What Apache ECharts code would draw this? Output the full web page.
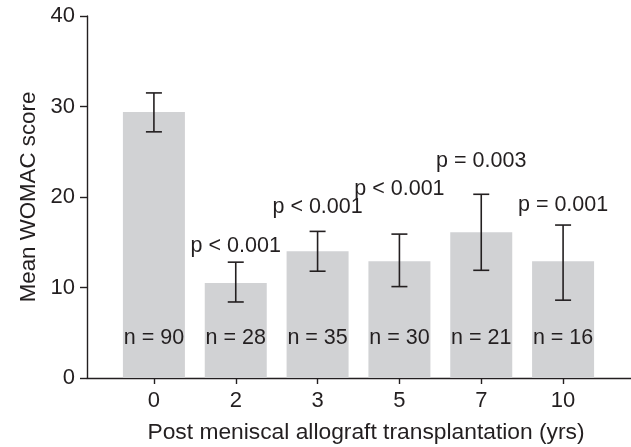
<!DOCTYPE html>
<html>
<head>
<meta charset="utf-8">
<script src="https://cdn.jsdelivr.net/npm/echarts@6/dist/echarts.min.js"></script>
<style>
  html, body { margin: 0; padding: 0; background: #fff; }
  #chart { width: 631px; height: 447px; }
</style>
</head>
<body>
<div id="chart"></div>
<script>
// ---- data ----
var categories = ['0', '2', '3', '5', '7', '10'];
var meanScores = [29.4, 10.5, 14.0, 12.9, 16.1, 12.9];
var errLow = [27.2, 8.4, 11.8, 10.1, 11.9, 8.6];
var errHigh = [31.5, 12.8, 16.2, 15.9, 20.3, 16.9];
var nLabels = ['n = 90', 'n = 28', 'n = 35', 'n = 30', 'n = 21', 'n = 16'];
var pLabels = ['', 'p < 0.001', 'p < 0.001', 'p < 0.001', 'p = 0.003', 'p = 0.001'];
var pLabelY = [null, 14.6, 18.9, 20.9, 24.0, 19.1];
var yTicks = [0, 10, 20, 30, 40];

var FONT = '"Liberation Sans", Arial, Helvetica, sans-serif';
var INK = '#231f20';

var chart = echarts.init(document.getElementById('chart'), null, { renderer: 'canvas' });

var errData = categories.map(function (c, i) { return [i, errLow[i], errHigh[i]]; });
var pData = [];
categories.forEach(function (c, i) { if (pLabelY[i] != null) pData.push([i, pLabelY[i], pLabels[i]]); });

var option = {
  backgroundColor: '#ffffff',
  animation: false,
  title: {
    text: 'Post meniscal allograft transplantation (yrs)',
    left: 361, top: 416, textAlign: 'center',
    textStyle: { fontFamily: FONT, fontSize: 22.8, fontWeight: 'normal', color: INK }
  },
  grid: [
    { left: 87, right: 0, top: 16, bottom: 69 },
    { left: 113, right: 27, top: 16, bottom: 69 }
  ],
  xAxis: [
    { gridIndex: 0, type: 'value', min: 0, max: 1,
      axisLine: { show: true, lineStyle: { color: INK, width: 1.4 } },
      axisTick: { show: false }, axisLabel: { show: false }, splitLine: { show: false } },
    { gridIndex: 1, type: 'category', data: categories, boundaryGap: true,
      axisLine: { show: false },
      axisTick: { show: true, alignWithLabel: true, length: 6, lineStyle: { color: INK, width: 1.4 } },
      axisLabel: { margin: 12, fontFamily: FONT, fontSize: 22, color: INK },
      splitLine: { show: false } }
  ],
  yAxis: [
    { gridIndex: 0, type: 'value', min: 0, max: 40, interval: 10,
      name: 'Mean WOMAC score', nameLocation: 'middle', nameGap: 45, nameRotate: 90,
      nameTextStyle: { fontFamily: FONT, fontSize: 22.3, color: INK },
      axisLine: { show: true, lineStyle: { color: INK, width: 1.4 } },
      axisTick: { show: true, inside: false, length: 7, lineStyle: { color: INK, width: 1.4 } },
      axisLabel: { margin: 12, fontFamily: FONT, fontSize: 22, color: INK,
        formatter: function (v) { return yTicks.indexOf(v) >= 0 ? String(v) : ''; } },
      splitLine: { show: false } },
    { gridIndex: 1, type: 'value', min: 0, max: 40, interval: 10, show: false, splitLine: { show: false } }
  ],
  series: [
    {
      type: 'bar', xAxisIndex: 1, yAxisIndex: 1,
      data: meanScores, barWidth: 62,
      itemStyle: { color: '#d1d2d4' },
      label: {
        show: true, position: 'insideBottom', distance: 29,
        fontFamily: FONT, fontSize: 21.5, color: INK,
        formatter: function (p) { return nLabels[p.dataIndex]; }
      },
      z: 2
    },
    {
      type: 'custom', xAxisIndex: 1, yAxisIndex: 1,
      data: errData,
      renderItem: function (params, api) {
        var x = api.value(0);
        var lo = api.coord([x, api.value(1)]);
        var hi = api.coord([x, api.value(2)]);
        var hw = 8;
        var style = { stroke: INK, lineWidth: 1.6, fill: null };
        return {
          type: 'group',
          children: [
            { type: 'line', shape: { x1: hi[0], y1: hi[1], x2: lo[0], y2: lo[1] }, style: style },
            { type: 'line', shape: { x1: hi[0] - hw, y1: hi[1], x2: hi[0] + hw, y2: hi[1] }, style: style },
            { type: 'line', shape: { x1: lo[0] - hw, y1: lo[1], x2: lo[0] + hw, y2: lo[1] }, style: style }
          ]
        };
      },
      z: 3
    },
    {
      type: 'custom', xAxisIndex: 1, yAxisIndex: 1,
      data: pData,
      renderItem: function (params, api) {
        var pt = api.coord([api.value(0), api.value(1)]);
        return {
          type: 'text',
          style: {
            x: pt[0], y: pt[1],
            text: pData[params.dataIndex][2],
            fill: INK, font: '21.5px ' + FONT,
            textAlign: 'center', textVerticalAlign: 'middle'
          }
        };
      },
      z: 4
    }
  ]
};

chart.setOption(option);
</script>
</body>
</html>
